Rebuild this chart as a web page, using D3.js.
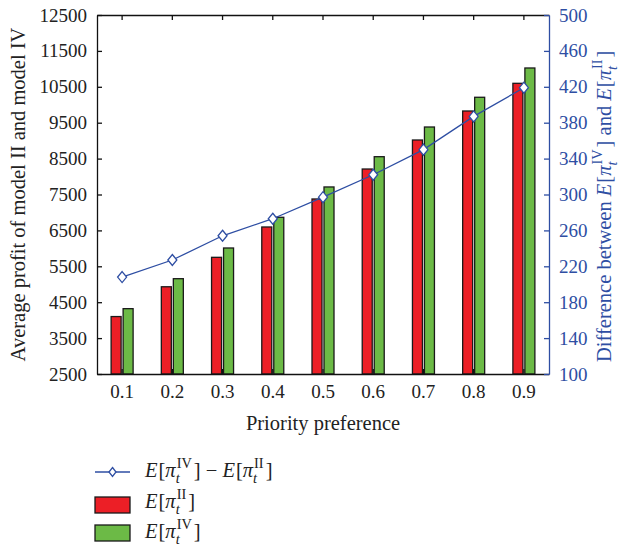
<!DOCTYPE html>
<html>
<head>
<meta charset="utf-8">
<script src="https://cdn.jsdelivr.net/npm/d3@7"></script>
<style>
  body { margin: 0; background: #fff; }
  svg, svg text { font-family: "Liberation Serif", "DejaVu Serif", serif; }
</style>
</head>
<body>
<svg id="chart" width="621" height="550" font-family="Liberation Serif"></svg>
<script>
// data
let categories = ["0.1", "0.2", "0.3", "0.4", "0.5", "0.6", "0.7", "0.8", "0.9"];
let profitII = [4100, 4930, 5750, 6595, 7375, 8210, 9018, 9826, 10597];
let profitIV = [4320, 5155, 6010, 6865, 7710, 8553, 9380, 10208, 11024];
let difference = [208, 227, 254, 273, 297, 322, 350, 387, 419];
let leftTicks = [2500, 3500, 4500, 5500, 6500, 7500, 8500, 9500, 10500, 11500, 12500];
let rightTicks = [100, 140, 180, 220, 260, 300, 340, 380, 420, 460, 500];

let blue = "#2e4ea3", red = "#ec1f26", green = "#6cba46";
let plot = {left: 97, right: 549, top: 15, bottom: 374};

let svg = d3.select("#chart");

let x = d3.scaleBand()
    .domain(categories)
    .range([plot.left, plot.right])
    .padding(0)
;
let sub = d3.scaleBand()
    .domain(["II", "IV"])
    .range([-11, 11])
    .paddingInner(1 / 6)
;
let yL = d3.scaleLinear().domain([2500, 12500]).range([plot.bottom, plot.top]);
let yR = d3.scaleLinear().domain([100, 500]).range([plot.bottom, plot.top]);

let cx = d => x(d) + x.bandwidth() / 2;

// bars
let series = [{key: "II", values: profitII, fill: red}, {key: "IV", values: profitIV, fill: green}];
series.forEach(s => {
    svg.append("g").selectAll("rect")
        .data(s.values)
        .join("rect")
        .attr("x", (d, i) => cx(categories[i]) + sub(s.key))
        .attr("width", sub.bandwidth())
        .attr("y", d => yL(d))
        .attr("height", d => yL(2500) - yL(d))
        .attr("fill", s.fill)
        .attr("stroke", "#1a1a1a")
        .attr("stroke-width", 1.3)
    ;
});

// axes
let fs = 19, tfs = 20.5;
let axisBottom = svg.append("g")
    .attr("transform", `translate(0,${plot.bottom})`)
    .call(d3.axisBottom(x).tickSize(-5).tickPadding(11).tickSizeOuter(0));
let axisTop = svg.append("g")
    .attr("transform", `translate(0,${plot.top})`)
    .call(d3.axisTop(x).tickSize(-5).tickFormat("").tickSizeOuter(0));
let axisLeft = svg.append("g")
    .attr("transform", `translate(${plot.left},0)`)
    .call(d3.axisLeft(yL).tickValues(leftTicks).tickFormat(d3.format("d"))
        .tickSize(-5).tickPadding(10).tickSizeOuter(0));
let axisRight = svg.append("g")
    .attr("transform", `translate(${plot.right},0)`)
    .call(d3.axisRight(yR).tickValues(rightTicks).tickFormat(d3.format("d"))
        .tickSize(-5).tickPadding(10).tickSizeOuter(0));

[axisBottom, axisTop, axisLeft, axisRight].forEach(a => a.attr("font-family", "Liberation Serif").attr("font-size", fs));
[axisBottom, axisTop, axisLeft].forEach(a => {
    a.selectAll("path, line").attr("stroke", "#111").attr("stroke-width", 1.3);
    a.selectAll("text").attr("fill", "#222");
});
axisRight.selectAll("path, line").attr("stroke", blue).attr("stroke-width", 1.3);
axisRight.selectAll("text").attr("fill", blue);

// difference line
let line = d3.line()
    .x((d, i) => cx(categories[i]))
    .y(d => yR(d));
svg.append("path")
    .datum(difference)
    .attr("d", line)
    .attr("fill", "none")
    .attr("stroke", blue)
    .attr("stroke-width", 1.3);

let diamond = "M0,-5.5L4.5,0L0,5.5L-4.5,0Z";
svg.append("g").selectAll("path")
    .data(difference)
    .join("path")
    .attr("d", diamond)
    .attr("transform", (d, i) => `translate(${cx(categories[i])},${yR(d)})`)
    .attr("fill", "#fff")
    .attr("stroke", blue)
    .attr("stroke-width", 1.3)
;

// math text helper: pieces laid out left to right, sup/sub stacked
function mathText(g, x0, y0, pieces, size, color) {
    let cur = x0;
    pieces.forEach(p => {
        if (p.stack) {
            let a = g.append("text").attr("x", cur + 1).attr("y", y0 - size * 0.42)
                .attr("font-size", size * 0.7).attr("fill", color).text(p.sup);
            let b = g.append("text").attr("x", cur).attr("y", y0 + size * 0.28)
                .attr("font-size", size * 0.7).attr("font-style", "italic").attr("fill", color).text(p.sub);
            cur += Math.max(a.node().getComputedTextLength() + 1, b.node().getComputedTextLength()) + 2;
        } else {
            let t = g.append("text").attr("x", cur).attr("y", y0)
                .attr("font-size", size).attr("fill", color)
                .attr("font-style", p.it ? "italic" : "normal")
                .attr("xml:space", "preserve")
                .text(p.t);
            cur += t.node().getComputedTextLength() + (p.gap || 0);
        }
    });
    return cur;
}
let eTerm = (lvl) => [{t: "E", it: true, gap: 1}, {t: "["}, {t: "π", it: true}, {stack: true, sup: lvl, sub: "t"}, {t: "]"}];

// axis titles
svg.append("text")
    .attr("transform", `translate(25,${(plot.top + plot.bottom) / 2}) rotate(-90)`)
    .attr("text-anchor", "middle")
    .attr("font-size", tfs)
    .attr("fill", "#222")
    .text("Average profit of model II and model IV");

svg.append("text")
    .attr("x", (plot.left + plot.right) / 2)
    .attr("y", 430)
    .attr("text-anchor", "middle")
    .attr("font-size", tfs)
    .attr("fill", "#222")
    .text("Priority preference");

let rTitle = svg.append("g").attr("transform", "translate(611,362) rotate(-90)");
mathText(rTitle, 0, 0,
    [{t: "Difference between "}].concat(eTerm("IV"), [{t: " and "}], eTerm("II")),
    tfs, blue);

// legend
let lg = svg.append("g");
lg.append("line").attr("x1", 95).attr("x2", 130).attr("y1", 472).attr("y2", 472)
    .attr("stroke", blue).attr("stroke-width", 1.3);
lg.append("path").attr("d", "M0,-4.5L3.5,0L0,4.5L-3.5,0Z")
    .attr("transform", "translate(112.5,472)")
    .attr("fill", "#fff").attr("stroke", blue).attr("stroke-width", 1.3);
lg.append("rect").attr("x", 95).attr("y", 497).attr("width", 35).attr("height", 16)
    .attr("fill", red).attr("stroke", "#1a1a1a").attr("stroke-width", 1.3);
lg.append("rect").attr("x", 95).attr("y", 525).attr("width", 35).attr("height", 16)
    .attr("fill", green).attr("stroke", "#1a1a1a").attr("stroke-width", 1.3);

mathText(lg, 145, 477, eTerm("IV").concat([{t: " − "}], eTerm("II")), tfs, "#222");
mathText(lg, 145, 508, eTerm("II"), tfs, "#222");
mathText(lg, 145, 538, eTerm("IV"), tfs, "#222");
</script>
</body>
</html>
